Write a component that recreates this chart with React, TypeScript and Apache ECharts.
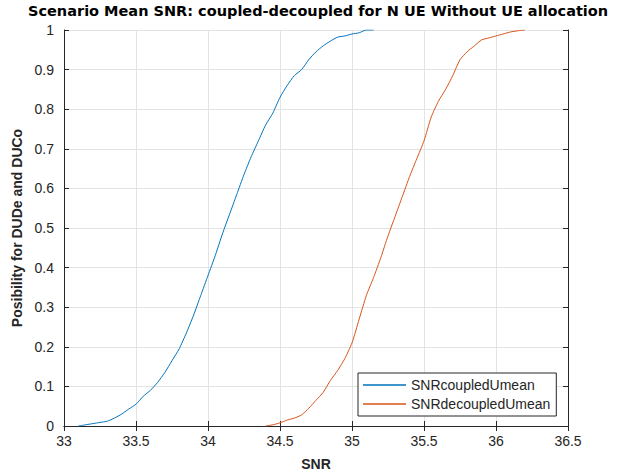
import React, { useEffect, useRef } from "react";
import * as echarts from "echarts";

const titleText = "Scenario Mean SNR: coupled-decoupled for N UE Without UE allocation";
const seriesNames = ["SNRcoupledUmean", "SNRdecoupledUmean"];

const coupledX = [33.10, 33.15, 33.20, 33.25, 33.30, 33.35, 33.40, 33.45, 33.50, 33.55, 33.60, 33.65, 33.70, 33.75, 33.80, 33.85, 33.90, 33.95, 34.00, 34.05, 34.10, 34.15, 34.20, 34.25, 34.30, 34.35, 34.40, 34.45, 34.50, 34.55, 34.60, 34.65, 34.70, 34.75, 34.80, 34.85, 34.90, 34.95, 35.00, 35.05, 35.10, 35.15];
const coupledY = [0, 0.003, 0.006, 0.009, 0.012, 0.02, 0.03, 0.043, 0.055, 0.075, 0.09, 0.11, 0.135, 0.165, 0.195, 0.235, 0.28, 0.33, 0.38, 0.43, 0.485, 0.535, 0.585, 0.635, 0.68, 0.72, 0.76, 0.79, 0.83, 0.86, 0.885, 0.9, 0.925, 0.945, 0.96, 0.972, 0.982, 0.985, 0.99, 0.993, 1, 1];

const decoupledX = [34.40, 34.45, 34.50, 34.55, 34.60, 34.65, 34.70, 34.75, 34.80, 34.85, 34.90, 34.95, 35.00, 35.05, 35.10, 35.15, 35.20, 35.25, 35.30, 35.35, 35.40, 35.45, 35.50, 35.55, 35.60, 35.65, 35.70, 35.75, 35.80, 35.85, 35.90, 35.95, 36.00, 36.05, 36.10, 36.15, 36.20];
const decoupledY = [0, 0.003, 0.008, 0.015, 0.02, 0.028, 0.045, 0.065, 0.085, 0.115, 0.14, 0.17, 0.21, 0.27, 0.33, 0.375, 0.425, 0.48, 0.53, 0.58, 0.63, 0.675, 0.72, 0.78, 0.82, 0.85, 0.885, 0.925, 0.945, 0.96, 0.975, 0.98, 0.985, 0.99, 0.995, 0.998, 1];

const xName = "SNR";
const yName = "Posibility for DUDe and DUCo";

const FONT = "'Liberation Sans', Arial, Helvetica, sans-serif";
const AX = "#262626";

export default function App() {
  const ref = useRef<HTMLDivElement>(null);
  useEffect(() => {
    if (!ref.current) return;
    const chart = echarts.init(ref.current, null, { renderer: "svg" });
    const zip = (xs: number[], ys: number[]) => xs.map((x, i) => [x, ys[i]]);
    const grid = { left: 64, right: 53, top: 30, bottom: 49 };
    const baseX = {
      type: "value" as const,
      min: 33,
      max: 36.5,
      interval: 0.5,
    };
    const baseY = {
      type: "value" as const,
      min: 0,
      max: 1,
      interval: 0.1,
    };
    chart.setOption({
      animation: false,
      backgroundColor: "#ffffff",
      textStyle: { fontFamily: FONT },
      title: {
        text: titleText,
        left: 28,
        top: 3,
        padding: 0,
        textStyle: { fontSize: 14.5, fontWeight: "bold", color: "#000", fontFamily: "'DejaVu Sans', sans-serif" },
      },
      grid,
      legend: {
        orient: "vertical",
        left: 358,
        top: 373,
        backgroundColor: "#fff",
        borderColor: AX,
        borderWidth: 1,
        borderRadius: 0,
        padding: [5, 6, 5, 5],
        itemGap: 5,
        itemWidth: 43,
        itemHeight: 1.5,
        icon: "rect",
        textStyle: { fontSize: 14, color: AX, fontFamily: FONT, padding: [0, 0, 0, 0] },
        data: seriesNames,
      },
      xAxis: [
        {
          ...baseX,
          position: "bottom",
          name: xName,
          nameLocation: "middle",
          nameGap: 31,
          nameTextStyle: { fontSize: 14, fontWeight: "bold", color: AX, fontFamily: FONT },
          axisLine: { show: true, lineStyle: { color: AX, width: 1 } },
          axisTick: { show: true, inside: true, length: 5, lineStyle: { color: AX } },
          axisLabel: { fontSize: 14, color: AX, margin: 8, fontFamily: FONT },
          splitLine: { show: true, lineStyle: { color: "#e3e3e3", width: 1 } },
        },
        {
          ...baseX,
          position: "top",
          axisLine: { show: true, lineStyle: { color: AX, width: 1 } },
          axisTick: { show: true, inside: true, length: 5, lineStyle: { color: AX } },
          axisLabel: { show: false },
          splitLine: { show: false },
        },
      ],
      yAxis: [
        {
          ...baseY,
          position: "left",
          name: yName,
          nameLocation: "middle",
          nameGap: 35,
          nameRotate: 90,
          nameTextStyle: { fontSize: 14, fontWeight: "bold", color: AX, fontFamily: FONT },
          axisLine: { show: true, lineStyle: { color: AX, width: 1 } },
          axisTick: { show: true, inside: true, length: 5, lineStyle: { color: AX } },
          axisLabel: { fontSize: 14, color: AX, margin: 10, fontFamily: FONT },
          splitLine: { show: true, lineStyle: { color: "#e3e3e3", width: 1 } },
        },
        {
          ...baseY,
          position: "right",
          axisLine: { show: true, lineStyle: { color: AX, width: 1 } },
          axisTick: { show: true, inside: true, length: 5, lineStyle: { color: AX } },
          axisLabel: { show: false },
          splitLine: { show: false },
        },
      ],
      series: [
        {
          name: seriesNames[0],
          type: "line",
          data: zip(coupledX, coupledY),
          symbol: "none",
          smooth: 0.2,
          lineStyle: { color: "#0072BD", width: 1 },
          itemStyle: { color: "#0072BD" },
          xAxisIndex: 0,
          yAxisIndex: 0,
        },
        {
          name: seriesNames[1],
          type: "line",
          data: zip(decoupledX, decoupledY),
          symbol: "none",
          smooth: 0.2,
          lineStyle: { color: "#D95319", width: 1 },
          itemStyle: { color: "#D95319" },
          xAxisIndex: 0,
          yAxisIndex: 0,
        },
      ],
    });
    return () => chart.dispose();
  }, []);
  return (
    <div
      ref={ref}
      style={{ position: "fixed", left: 0, top: 0, width: 621, height: 476, background: "#fff" }}
    />
  );
}
